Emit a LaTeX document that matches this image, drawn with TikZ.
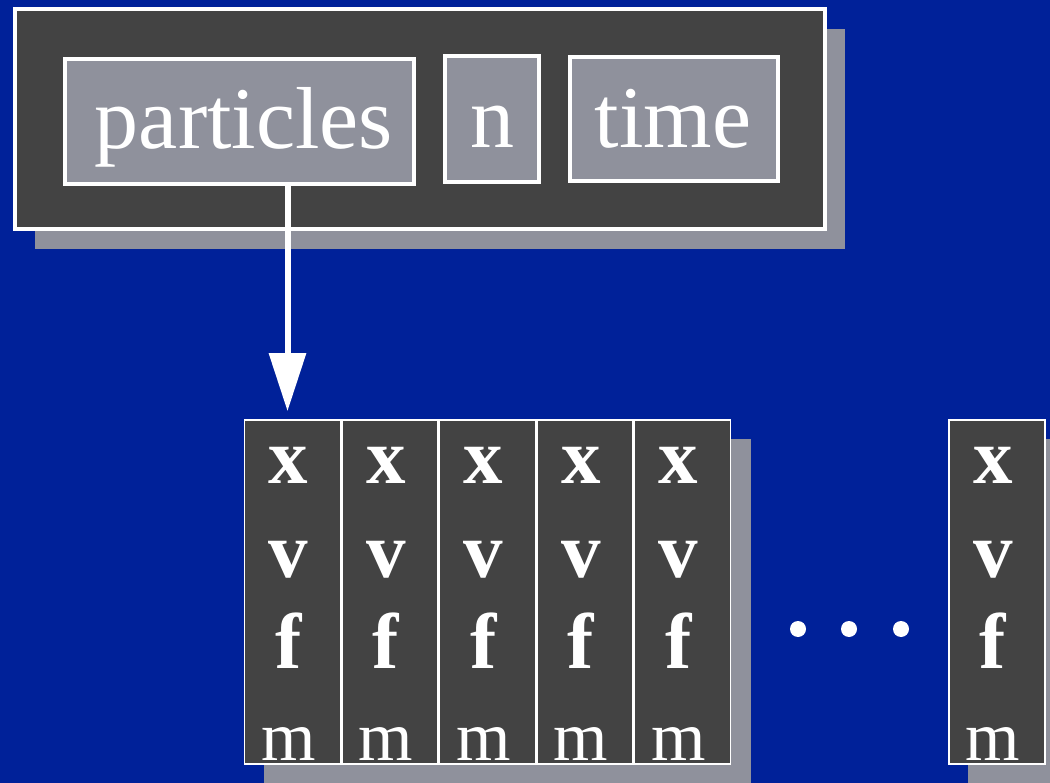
\documentclass[tikz,border=0pt]{standalone}
\usepackage{fontspec}
\setmainfont{Liberation Serif}
\usetikzlibrary{arrows.meta,shadows,calc}
\definecolor{bg}{RGB}{0,33,153}
\definecolor{dark}{RGB}{67,67,67}
\definecolor{lite}{RGB}{143,145,156}
\pgfdeclarelayer{back}
\pgfsetlayers{back,main}
\begin{document}
\begin{tikzpicture}[x=1pt,y=-1pt,
  frame/.style={draw=white,line width=4pt,fill=dark,inner sep=0pt,
    drop shadow={shadow xshift=20pt,shadow yshift=-20pt,fill=lite,opacity=1}},
  field/.style={draw=white,line width=4pt,fill=lite,inner sep=0pt},
  cell/.style={draw=white,line width=1.5pt,fill=dark,minimum width=96pt,minimum height=344pt,inner sep=0pt},
  bigtxt/.style={anchor=base,text=white,inner sep=0pt,font=\fontsize{88}{88}\selectfont},
  bl/.style={anchor=base,text=white,inner sep=0pt,font=\fontsize{79}{79}\selectfont\bfseries},
  ml/.style={anchor=base,text=white,inner sep=0pt,font=\fontsize{70}{70}\selectfont},
  dot/.style={circle,fill=white,minimum size=16pt,inner sep=0pt},
  shade/.style={fill=lite}]
\useasboundingbox (0,0) rectangle (1050,783);
\begin{pgfonlayer}{back}
\fill[bg] (0,0) rectangle (1050,783);
\end{pgfonlayer}
% top record
\node[frame,minimum width=810pt,minimum height=220pt] (rec) at (420,119) {};
\node[field,minimum width=349pt,minimum height=125pt] (part) at (239.5,121.5) {};
\node[field,minimum width=94pt,minimum height=126pt] (nbox) at (492,119) {};
\node[field,minimum width=208pt,minimum height=124pt] (tbox) at (674,119) {};
\node[bigtxt] (tpart) at (244,149) {particles};
\node[bigtxt] (tn) at (492,148) {n};
\node[bigtxt] (ttime) at (673,148) {time};
% particle array
\foreach \i/\cx in {1/292.5,2/390,3/487.5,4/585,5/682.5,6/997}{
  \node[cell] (c\i) at (\cx,592) {};
  \node[bl] (x\i) at (\cx-4,483) {x};
  \node[bl] (v\i) at (\cx-4,577) {v};
  \node[bl] (f\i) at (\cx-4,668) {f};
  \node[ml] (m\i) at (\cx-4,760) {m};
}
\begin{pgfonlayer}{back}
\fill[shade] ([shift={(20pt,-20pt)}]c1.north west) rectangle ([shift={(20pt,-20pt)}]c5.south east);
\fill[shade] ([shift={(20pt,-20pt)}]c6.north west) rectangle ([shift={(20pt,-20pt)}]c6.south east);
\end{pgfonlayer}
% dots
\node[dot] (d1) at (798,629) {};
\node[dot] (d2) at (849,629) {};
\node[dot] (d3) at (901,629) {};
% arrow
\draw[white,line width=6pt,-{Triangle[width=36pt,length=58pt]},shorten >=8pt]
  ($(c1.north |- part.south)+(-5,-2)$) -- ($(c1.north)+(-5,0)$);
\end{tikzpicture}
\end{document}
